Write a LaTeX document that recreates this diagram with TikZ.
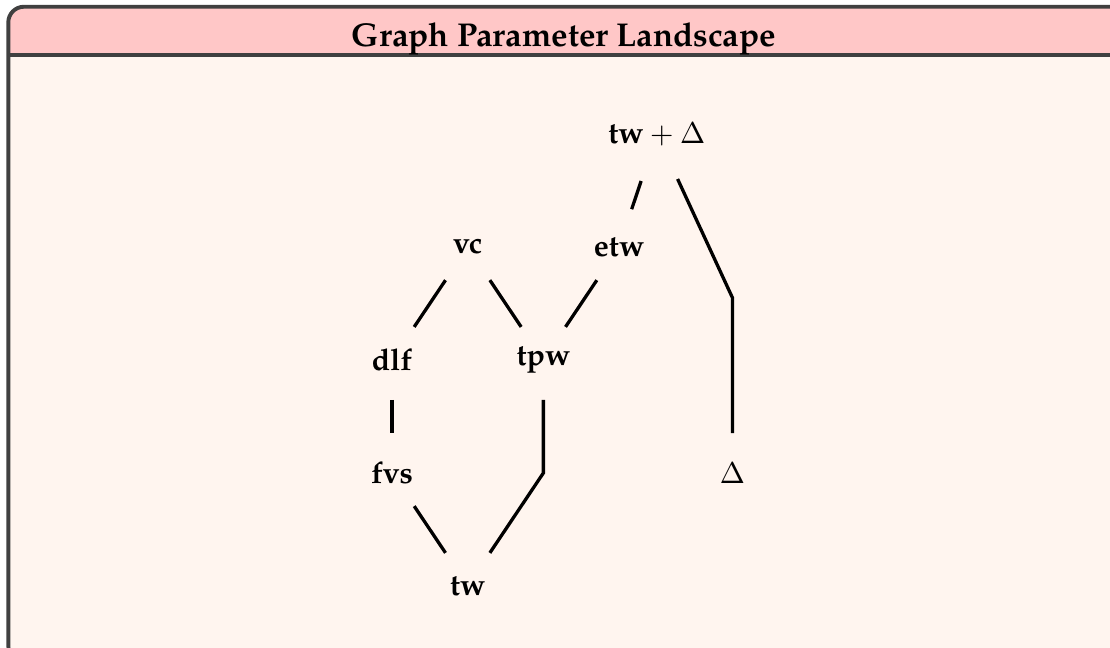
\documentclass[tikz,border=0pt,11pt]{standalone}
\usepackage{fontspec}
\setmainfont{TeX Gyre Pagella}
\usetikzlibrary{calc}
\definecolor{frameGray}{HTML}{404040}
\definecolor{titlePink}{HTML}{FFC7C7}
\definecolor{bodyCream}{HTML}{FFF5EF}
\tikzset{
  param/.style={font=\bfseries, inner sep=2pt},
  link/.style={line width=1.2pt, shorten <=14.5pt, shorten >=14.5pt},
  boxframe/.style={draw=frameGray, line width=0.5mm, rounded corners=2mm},
}

\begin{document}
\begin{tikzpicture}
  \useasboundingbox (0,0) rectangle (14.186,-8.281);
  \clip (0,0) rectangle (14.186,-8.281);

  % === Box: body, title bar, frame ===
  \fill[bodyCream, rounded corners=2mm] (0.106,-0.086) rectangle (14.5,-8.45);
  \begin{scope}
    \clip[rounded corners=2mm] (0.106,-0.086) rectangle (14.5,-8.45);
    \fill[titlePink] (0,0) rectangle (14.6,-0.703);
  \end{scope}
  \draw[boxframe] (0.106,-0.086) rectangle (14.5,-8.45);
  \draw[frameGray, line width=0.5mm] (0.106,-0.703) -- (14.5,-0.703);
  \node[font=\large\bfseries, anchor=base] (title) at (7.208,-0.60) {Graph Parameter Landscape};

  % === Parameters ===
  \begin{scope}[shift={(5.010,-7.489)}, x=0.967cm, y=1.444cm]
    \node[param] (tw) at (1,0) {tw};
    \node[param] (fvs) at (0,1) {fvs};
    \node (delta) at (4.5,1) {$\Delta$};
    \node[param] (dlf) at (0,2) {dlf};
    \node[param] (tpw) at (2,2) {tpw};
    \node[param] (vc) at (1,3) {vc};
    \node[param] (etw) at (3,3) {etw};
    \node (twdelta) at (3.5,4) {$\textbf{tw}+\Delta$};

    \coordinate (bendA) at (tpw |- fvs);
    \coordinate (bendB) at (4.5,2.55);

    % Lines between comparable parameters
    \draw[link] (vc.center) -- (dlf.center);
    \draw[link] (vc.center) -- (tpw.center);
    \draw[link] (etw.center) -- (tpw.center);
    \draw[link] (dlf.center) -- (fvs.center);
    \draw[link] (fvs.center) -- (tw.center);
    \draw[link] (tpw.center) -- (bendA) -- (tw.center);
    \draw[link, shorten <=18pt] (twdelta.center) -- (etw.center);
    \draw[link, shorten <=18pt] (twdelta.center) -- (bendB) -- (delta.center);
  \end{scope}
\end{tikzpicture}
\end{document}
